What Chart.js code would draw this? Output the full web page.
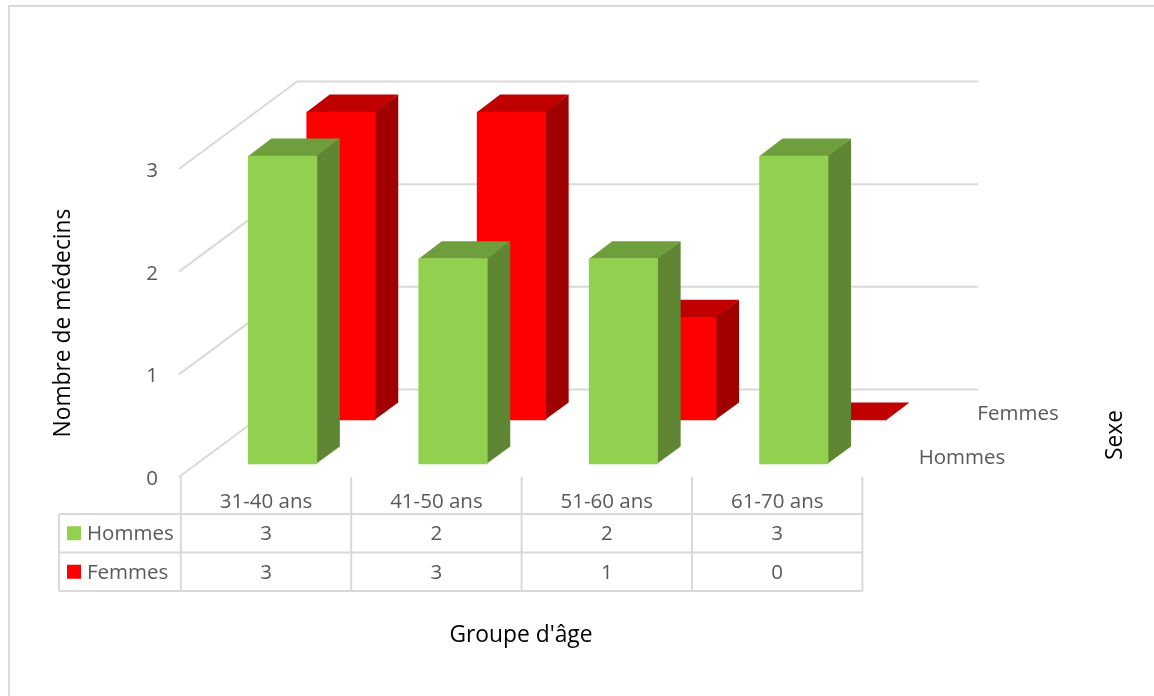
<!DOCTYPE html>
<html lang="fr">
<head>
<meta charset="utf-8">
<title>Nombre de médecins par groupe d'âge et sexe</title>
<style>
  html, body { margin: 0; background: #fff; }
  canvas { display: block; }
</style>
<script src="https://cdn.jsdelivr.net/npm/chart.js@4"></script>
</head>
<body>
<canvas id="chart" width="1154" height="696"></canvas>
<script>
'use strict';

const categories = ['31-40 ans', '41-50 ans', '51-60 ans', '61-70 ans'];
const hommes = [3, 2, 2, 3];
const femmes = [3, 3, 1, 0];
const valueTicks = [0, 1, 2, 3];

const FONT = '"Open Sans", sans-serif';
const FONT_SIZE = 20.5;
const TITLE_SIZE = 22.8;
const TEXT = '#595959';
const LINE = '#d9d9d9';

// plot box in pixels, and how many pixels one unit takes on each axis
// tick labels sit a little under their gridline, so the y axis starts below the wall
const tickDrop = 2;
const plot = { left: 181, right: 978, top: 81, bottom: 477 + tickDrop };
const unitX = 170.4;
const unitY = 102.67;
const spanX = (plot.right - plot.left) / unitX;
const spanY = (plot.bottom - plot.top) / unitY;

// depth of a single bar, and how far the back wall sits behind the front edge
const barDepth = { x: 23, y: 17.5 };
const wallDepth = { x: 116, y: 87.5 };

// each row of bars gets its own hidden axes, shifted into the depth of the box
function rangeX(firstCenter) {
  const min = -(firstCenter - plot.left) / unitX;
  return { min, max: min + spanX };
}
function rangeY(zeroAt) {
  const min = -(plot.bottom - zeroAt) / unitY;
  return { min, max: min + spanY };
}

function poly(ctx, color, pts) {
  ctx.fillStyle = color;
  ctx.beginPath();
  pts.forEach((p, i) => (i ? ctx.lineTo(p[0], p[1]) : ctx.moveTo(p[0], p[1])));
  ctx.closePath();
  ctx.fill();
}

function line(ctx, x1, y1, x2, y2) {
  ctx.beginPath();
  ctx.moveTo(x1, y1);
  ctx.lineTo(x2, y2);
  ctx.stroke();
}

function label(ctx, text, x, y, color, size, rotate) {
  ctx.save();
  ctx.translate(x, y);
  if (rotate) ctx.rotate(-Math.PI / 2);
  ctx.font = size + 'px ' + FONT;
  ctx.fillStyle = color;
  ctx.textAlign = 'center';
  ctx.textBaseline = 'middle';
  ctx.fillText(text, 0, 0);
  ctx.restore();
}

const box3d = {
  id: 'box3d',
  // page frame, side wall and back wall
  beforeDatasetsDraw(chart) {
    const ctx = chart.ctx;
    const y = chart.scales.y;
    ctx.save();
    ctx.strokeStyle = LINE;
    ctx.lineWidth = 2;
    line(ctx, 9, 6, 1154, 6);
    line(ctx, 9, 5, 9, 696);
    valueTicks.forEach((v) => {
      const py = y.getPixelForValue(v) - tickDrop;
      const backX = plot.left + wallDepth.x;
      const backY = py - wallDepth.y;
      line(ctx, plot.left - 2, py, backX, backY);
      line(ctx, backX, backY, plot.right, backY);
    });
    ctx.restore();
  },
  // side and top faces go under the front face the library draws
  beforeDatasetDraw(chart, args) {
    const ctx = chart.ctx;
    const ds = chart.data.datasets[args.index];
    args.meta.data.forEach((bar) => {
      const p = bar.getProps(['x', 'y', 'base', 'width']);
      const l = p.x - p.width / 2;
      const r = p.x + p.width / 2;
      const dx = barDepth.x;
      const dy = barDepth.y;
      // the side starts 1px under the front face so no seam shows between them
      const under = p.base > p.y ? 1 : 0;
      poly(ctx, ds.sideColor, [[r - under, p.y], [r + dx, p.y - dy], [r + dx, p.base - dy], [r - under, p.base]]);
      poly(ctx, ds.topColor, [[l, p.y], [l + dx, p.y - dy], [r + dx, p.y - dy], [r, p.y]]);
    });
  },
  // data table under the plot, axis titles and depth labels
  afterDraw(chart) {
    const ctx = chart.ctx;
    const x = chart.scales.x;
    const rows = [514, 552.5, 591];
    const edges = categories.map((c, i) => x.getPixelForValue(i - 0.5));
    edges.push(x.getPixelForValue(categories.length - 0.5));

    ctx.save();
    ctx.strokeStyle = LINE;
    ctx.lineWidth = 2;
    line(ctx, 59, rows[0], edges[edges.length - 1], rows[0]);
    line(ctx, 59, rows[1], edges[edges.length - 1], rows[1]);
    line(ctx, 59, rows[2], edges[edges.length - 1], rows[2]);
    line(ctx, 59, rows[0], 59, rows[2]);
    edges.forEach((e) => line(ctx, e, plot.bottom - tickDrop, e, rows[2]));

    chart.data.datasets.forEach((ds, r) => {
      const cy = (rows[r] + rows[r + 1]) / 2;
      ctx.fillStyle = ds.backgroundColor;
      ctx.fillRect(67, cy - 7, 14, 14);
      ctx.font = FONT_SIZE + 'px ' + FONT;
      ctx.fillStyle = TEXT;
      ctx.textAlign = 'left';
      ctx.textBaseline = 'middle';
      ctx.fillText(ds.label, 87, cy + 1);
      ds.data.forEach((d, i) => label(ctx, String(d.y), x.getPixelForValue(i), cy + 1, TEXT, FONT_SIZE));
    });
    ctx.restore();

    label(ctx, 'Nombre de médecins', 64, 323, '#000', TITLE_SIZE, true);
    label(ctx, "Groupe d'âge", 521, 636, '#000', TITLE_SIZE);
    label(ctx, 'Sexe', 1116, 435, '#000', TITLE_SIZE, true);
    label(ctx, 'Femmes', 1018, 414, TEXT, FONT_SIZE);
    label(ctx, 'Hommes', 962, 458, TEXT, FONT_SIZE);
  }
};

new Chart(document.getElementById('chart'), {
  type: 'bar',
  data: {
    datasets: [
      {
        label: 'Hommes',
        data: hommes.map((v, i) => ({ x: i, y: v })),
        xAxisID: 'xHommes',
        yAxisID: 'yHommes',
        backgroundColor: '#92d050',
        topColor: '#6f9e3c',
        sideColor: '#5f8632',
        barThickness: 68.5,
        grouped: false
      },
      {
        label: 'Femmes',
        data: femmes.map((v, i) => ({ x: i, y: v })),
        xAxisID: 'xFemmes',
        yAxisID: 'yFemmes',
        backgroundColor: '#ff0000',
        topColor: '#c00000',
        sideColor: '#a00000',
        barThickness: 68.5,
        grouped: false
      }
    ]
  },
  plugins: [box3d],
  options: {
    responsive: false,
    animation: false,
    devicePixelRatio: 1,
    layout: { padding: { top: plot.top, right: 1154 - plot.right, left: 0, bottom: 0 } },
    plugins: { legend: { display: false }, tooltip: { enabled: false } },
    scales: {
      x: {
        type: 'linear',
        position: 'bottom',
        offset: false,
        ...rangeX(266),
        grid: { display: false },
        border: { display: false },
        afterFit(scale) { scale.height = 696 - plot.bottom; },
        ticks: {
          stepSize: 1,
          includeBounds: false,
          autoSkip: false,
          maxRotation: 0,
          padding: 3,
          color: TEXT,
          font: { family: FONT, size: FONT_SIZE },
          callback: (v) => (categories[v] === undefined ? null : categories[v])
        }
      },
      y: {
        type: 'linear',
        position: 'left',
        min: 0,
        max: spanY,
        grid: { display: false },
        border: { display: false },
        afterFit(scale) { scale.width = plot.left; },
        ticks: {
          stepSize: 1,
          includeBounds: false,
          padding: 15,
          color: TEXT,
          font: { family: FONT, size: FONT_SIZE }
        }
      },
      xHommes: { type: 'linear', display: false, offset: false, ...rangeX(282.6) },
      xFemmes: { type: 'linear', display: false, offset: false, ...rangeX(341) },
      yHommes: { type: 'linear', display: false, ...rangeY(464) },
      yFemmes: { type: 'linear', display: false, ...rangeY(420) }
    }
  }
});
</script>
</body>
</html>
